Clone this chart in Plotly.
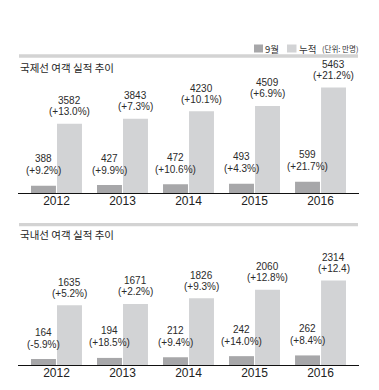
import plotly.graph_objects as go
from plotly.subplots import make_subplots

years = ["2012", "2013", "2014", "2015", "2016"]

intl_sep = [388, 427, 472, 493, 599]
intl_sep_pct = ["(+9.2%)", "(+9.9%)", "(+10.6%)", "(+4.3%)", "(+21.7%)"]
intl_cum = [3582, 3843, 4230, 4509, 5463]
intl_cum_pct = ["(+13.0%)", "(+7.3%)", "(+10.1%)", "(+6.9%)", "(+21.2%)"]

dom_sep = [164, 194, 212, 242, 262]
dom_sep_pct = ["(-5.9%)", "(+18.5%)", "(+9.4%)", "(+14.0%)", "(+8.4%)"]
dom_cum = [1635, 1671, 1826, 2060, 2314]
dom_cum_pct = ["(+5.2%)", "(+2.2%)", "(+9.3%)", "(+12.8%)", "(+12.4)"]

titles = ["국제선 여객 실적 추이", "국내선 여객 실적 추이"]
legend_names = ["9월", "누적"]
unit_text = "(단위: 만명)"

DARK = "#a7a7a9"
LIGHT = "#d2d3d5"
TXT = "#2b2b2b"
W, H = 379, 390
NUM_FONT = "Liberation Sans Narrow, Arial Narrow, Liberation Sans, Arial, sans-serif"
KR_FONT = "Noto Sans CJK KR, Noto Sans, sans-serif"

fig = make_subplots(rows=2, cols=1)

panels = [
    (intl_sep, intl_sep_pct, intl_cum, intl_cum_pct, 1),
    (dom_sep, dom_sep_pct, dom_cum, dom_cum_pct, 2),
]

annotations = []
for sep, sep_pct, cum, cum_pct, row in panels:
    fig.add_trace(go.Bar(x=years, y=sep, name=legend_names[0], width=0.378, offset=-0.386,
                         marker=dict(color=DARK, line=dict(width=0)), showlegend=False,
                         hoverinfo="skip"), row=row, col=1)
    fig.add_trace(go.Bar(x=years, y=cum, name=legend_names[1], width=0.378, offset=0.008,
                         marker=dict(color=LIGHT, line=dict(width=0)), showlegend=False,
                         hoverinfo="skip"), row=row, col=1)
    xref = "x" if row == 1 else "x2"
    yref = "y" if row == 1 else "y2"
    for i, (v, p) in enumerate(zip(sep, sep_pct)):
        annotations.append(dict(x=i, y=v, xref=xref, yref=yref, xshift=-13, yshift=15,
                                text=p, showarrow=False, yanchor="middle",
                                font=dict(family=NUM_FONT, size=10, color=TXT)))
        annotations.append(dict(x=i, y=v, xref=xref, yref=yref, xshift=-13, yshift=27,
                                text=str(v), showarrow=False, yanchor="middle",
                                font=dict(family=NUM_FONT, size=10, color=TXT)))
    for i, (v, p) in enumerate(zip(cum, cum_pct)):
        annotations.append(dict(x=i, y=v, xref=xref, yref=yref, xshift=13, yshift=12,
                                text=p, showarrow=False, yanchor="middle",
                                font=dict(family=NUM_FONT, size=10, color=TXT)))
        annotations.append(dict(x=i, y=v, xref=xref, yref=yref, xshift=13, yshift=23,
                                text=str(v), showarrow=False, yanchor="middle",
                                font=dict(family=NUM_FONT, size=10, color=TXT)))

def py(p):
    return 1 - p / H

def px(p):
    return p / W

# titles
for t, ypix in zip(titles, [67.7, 234]):
    annotations.append(dict(x=px(18), y=py(ypix), xref="paper", yref="paper", text=t,
                            showarrow=False, xanchor="left", yanchor="middle",
                            font=dict(family=KR_FONT, size=10.5, color="#1e1e1e")))

# legend texts
annotations.append(dict(x=px(263), y=py(48.5), xref="paper", yref="paper", text=legend_names[0],
                        showarrow=False, xanchor="left", yanchor="middle",
                        font=dict(family=KR_FONT, size=9.5, color="#333")))
annotations.append(dict(x=px(296.5), y=py(48.5), xref="paper", yref="paper", text=legend_names[1],
                        showarrow=False, xanchor="left", yanchor="middle",
                        font=dict(family=KR_FONT, size=9.5, color="#333")))
annotations.append(dict(x=px(360), y=py(48.5), xref="paper", yref="paper", text=unit_text,
                        showarrow=False, xanchor="right", yanchor="middle",
                        font=dict(family=KR_FONT, size=7.5, color="#333")))

shapes = [
    dict(type="rect", xref="paper", yref="paper", x0=px(19), x1=px(358), y0=py(57.7), y1=py(54.3),
         fillcolor="#d3d3d3", line=dict(width=0), layer="below"),
    dict(type="rect", xref="paper", yref="paper", x0=px(19), x1=px(358), y0=py(226.3), y1=py(223),
         fillcolor="#d3d3d3", line=dict(width=0), layer="below"),
    dict(type="rect", xref="paper", yref="paper", x0=px(254), x1=px(263), y0=py(52.5), y1=py(44.5),
         fillcolor=DARK, line=dict(width=0)),
    dict(type="rect", xref="paper", yref="paper", x0=px(287), x1=px(296.5), y0=py(52.5), y1=py(44.5),
         fillcolor=LIGHT, line=dict(width=0)),
]

xdom = [px(18), px(359)]
axis_x = dict(type="category", range=[-0.583, 4.583], domain=xdom, showline=True,
              linecolor="#111", linewidth=1.3, ticks="", ticklen=0, showgrid=False, zeroline=False,
              ticklabelstandoff=-4,
              tickfont=dict(family="Liberation Sans, Arial, sans-serif", size=12, color="#222"),
              fixedrange=True)

fig.update_layout(
    width=W, height=H,
    margin=dict(l=0, r=0, t=0, b=0),
    paper_bgcolor="white", plot_bgcolor="white",
    barmode="overlay",
    showlegend=False,
    annotations=annotations,
    shapes=shapes,
    xaxis=dict(axis_x),
    xaxis2=dict(axis_x),
    yaxis=dict(domain=[py(193.3), py(77)], range=[0, 6000], visible=False, showgrid=False, fixedrange=True),
    yaxis2=dict(domain=[py(365), py(259)], range=[0, 2900], visible=False, showgrid=False, fixedrange=True),
)

fig.write_html("out.html", config={"displayModeBar": False},
               post_script="document.body.style.margin='0';document.body.style.padding='0';")
